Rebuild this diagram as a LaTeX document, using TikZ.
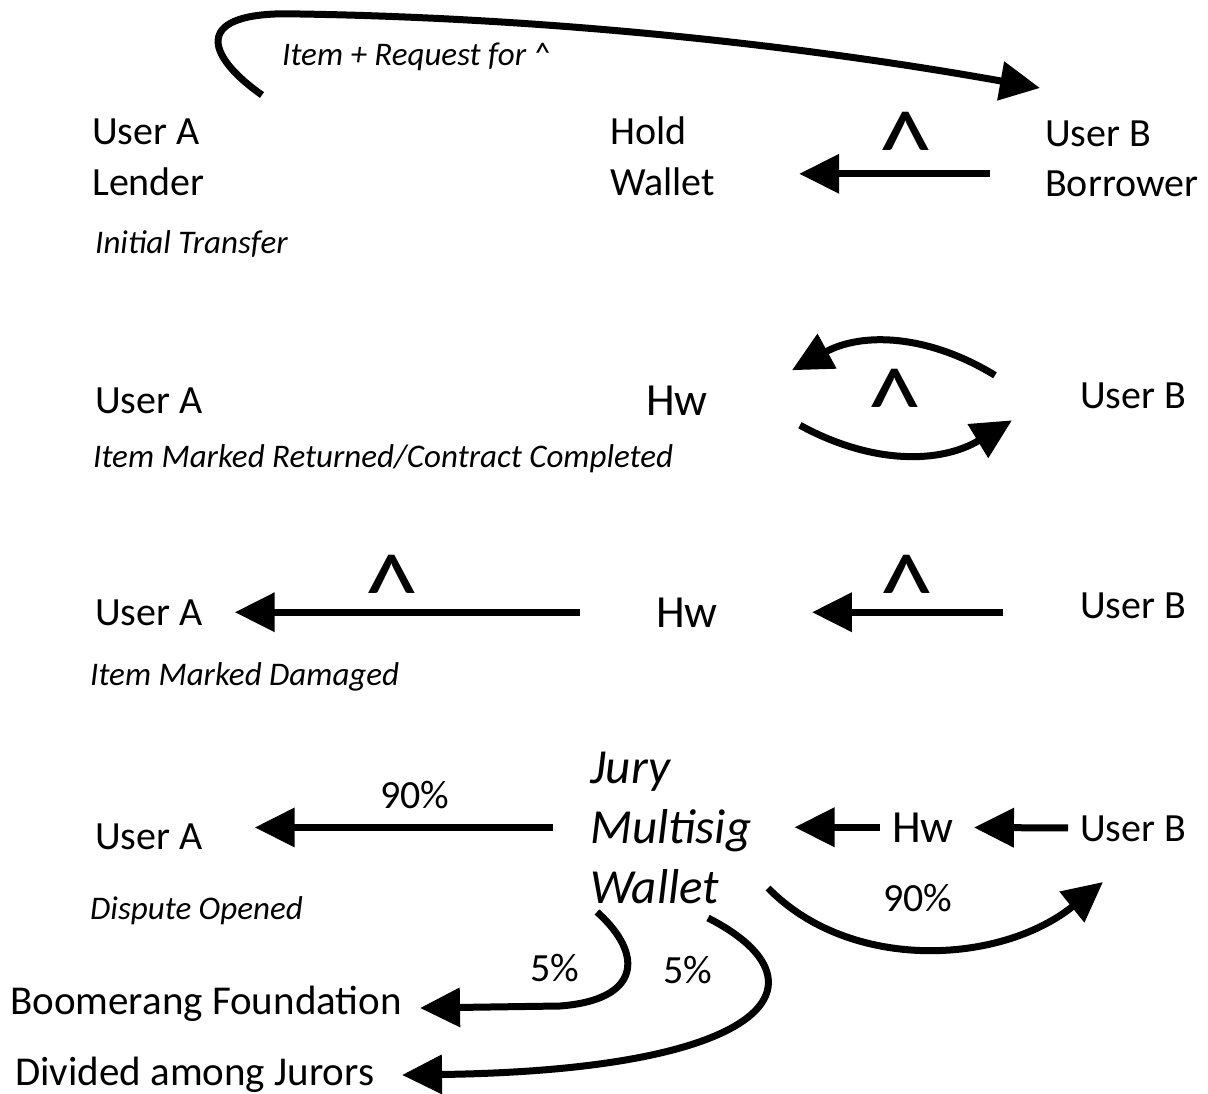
\documentclass[tikz,border=0pt]{standalone}
\usepackage{fontspec}
\setmainfont{Carlito}
\usetikzlibrary{arrows.meta}

\begin{document}
\begin{tikzpicture}[x=1pt, y=-1pt,
	who/.style = {anchor=base west, inner sep=0, align=left, font=\fontsize{40}{51}\selectfont},
	hw/.style = {anchor=base west, inner sep=0, font=\fontsize{46}{55}\selectfont},
	note/.style = {anchor=base west, inner sep=0, font=\fontsize{33}{40}\selectfont\itshape},
	hat/.style = {anchor=north, inner sep=0, font=\fontsize{110}{120}\selectfont},
	pct/.style = {anchor=base, inner sep=0, font=\fontsize{40}{48}\selectfont},
	flow/.style = {line width=7pt, -{Triangle[length=40pt, width=38pt]}}]
	\useasboundingbox (0,0) rectangle (1208,1094);

	% initial transfer
	\node[who] (ua1) at (92,196) {User A\\Lender};
	\node[who] (hw1) at (610,196) {Hold\\Wallet};
	\node[who] (ub1) at (1045,197) {User B\\Borrower};
	\node[note] (t1) at (95,254) {Initial Transfer};
	\node[note] (req) at (282,66) {Item + Request for \textasciicircum};
	\node[hat] (c1) at (906,112) {\textasciicircum};
	\coordinate (lendOut) at (262,95);
	\coordinate (borrowIn) at (1040,88);
	\draw[flow] (lendOut) .. controls (205,55) and (190,10) .. (300,14) .. controls (550,18) and (800,45) .. (borrowIn);
	\draw[flow, shorten <=55pt, shorten >=84pt] ([yshift=-15pt]ub1.west) -- ([yshift=-15pt]ub1.west -| hw1.east);

	% returned
	\node[who] (ua2) at (95,413) {User A};
	\node[hw] (hw2) at (646,415) {Hw};
	\node[who] (ub2) at (1080,408) {User B};
	\node[note] (t2) at (93,467) {Item Marked Returned/Contract Completed};
	\node[hat] (c2) at (895,369) {\textasciicircum};
	\draw[flow] ([shift={(-85pt,20pt)}]ub2.west) to[bend right=30] ([shift={(84pt,30pt)}]hw2.east);
	\draw[flow] ([shift={(92pt,-25pt)}]hw2.east) to[bend right=30] ([shift={(-68pt,-25pt)}]ub2.west);

	% damaged
	\node[who] (ua3) at (95,625) {User A};
	\node[hw] (hw3) at (656,627) {Hw};
	\node[who] (ub3) at (1080,618) {User B};
	\node[note] (t3) at (90,685) {Item Marked Damaged};
	\node[hat] (c3a) at (392,555) {\textasciicircum};
	\node[hat] (c3b) at (907,555) {\textasciicircum};
	\draw[flow, shorten <=77pt, shorten >=94pt] (hw3.east -| ub3.west) -- (hw3.east);
	\draw[flow, shorten <=76pt, shorten >=32pt] (hw3.west) -- (hw3.west -| ua3.east);

	% dispute
	\node[who] (ua4) at (95,849) {User A};
	\node[note, align=left, font=\fontsize{49}{60}\selectfont\itshape] (jury) at (590,903) {Jury\\Multisig\\Wallet};
	\node[hw] (hw4) at (892,842) {Hw};
	\node[who] (ub4) at (1080,841) {User B};
	\node[note] (t4) at (90,919) {Dispute Opened};
	\node[who, font=\fontsize{41}{51}\selectfont] (boom) at (10,1014) {Boomerang Foundation};
	\node[who, font=\fontsize{41}{51}\selectfont] (jurors) at (15,1085) {Divided among Jurors};
	\node[pct] (p1) at (415,808) {90\%};
	\node[pct] (p2) at (918,911) {90\%};
	\node[pct] (p3) at (555,981) {5\%};
	\node[pct] (p4) at (688,983) {5\%};
	\draw[flow, shorten <=12pt, shorten >=20pt] (ub4) -- (hw4);
	\draw[flow, shorten <=12pt, shorten >=43pt] (hw4) -- (hw4 -| jury.east);
	\draw[flow, shorten <=37pt, shorten >=52pt] (jury.west) -- (jury.west -| ua4.east);
	\coordinate (juryOut) at (768,888);
	\coordinate (bIn) at (1103,882);
	\draw[flow] (juryOut) .. controls (850,972) and (1000,965) .. (bIn);
	\coordinate (foundOut) at (597,912);
	\coordinate (foundIn) at (420,1008);
	\draw[flow] (foundOut) .. controls (645,955) and (640,1000) .. (560,1006) -- (foundIn);
	\coordinate (jurorOut) at (708,918);
	\coordinate (jurorIn) at (402,1075);
	\draw[flow] (jurorOut) .. controls (830,980) and (780,1070) .. (jurorIn);
\end{tikzpicture}
\end{document}
